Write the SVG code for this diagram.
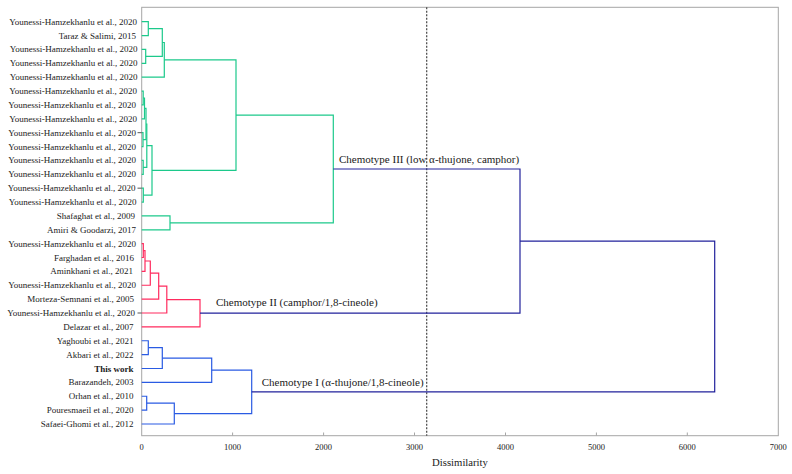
<svg xmlns="http://www.w3.org/2000/svg" width="792" height="474" viewBox="0 0 792 474">
<style>
text{font-family:"Liberation Serif","Times New Roman",serif;fill:#1a1a1a}
.lb{font-size:9px;text-anchor:end}
.tk{font-size:8.5px;text-anchor:middle}
.ct{font-size:11px}
.br{fill:none;stroke-width:1.2;stroke-linejoin:miter}
.g{stroke:#1cc98b}
.r{stroke:#ff2b5e}
.b{stroke:#2a5be3}
.n{stroke:#22229c}
.stub{stroke:#555;stroke-width:1}
.ax{fill:none;stroke:#a6a6a6;stroke-width:1}
</style>
<rect width="792" height="474" fill="#fff"/>
<g id="axes">
<rect class="ax" x="141.7" y="7.3" width="636.6" height="428.4"/>
<path class="ax" d="M232.6,432.5V435.7M323.6,432.5V435.7M414.5,432.5V435.7M505.5,432.5V435.7M596.4,432.5V435.7M687.3,432.5V435.7"/>
<text class="tk" x="141.7" y="450">0</text>
<text class="tk" x="232.6" y="450">1000</text>
<text class="tk" x="323.6" y="450">2000</text>
<text class="tk" x="414.5" y="450">3000</text>
<text class="tk" x="505.5" y="450">4000</text>
<text class="tk" x="596.4" y="450">5000</text>
<text class="tk" x="687.3" y="450">6000</text>
<text class="tk" x="778.3" y="450">7000</text>
<text x="460" y="466" style="font-size:10.7px;text-anchor:middle">Dissimilarity</text>
</g>
<g id="cutoff"><line x1="426.7" y1="7.3" x2="426.7" y2="435.7" stroke="#444" stroke-width="1.2" stroke-dasharray="2,1.5"/></g>
<g id="connectors">
<g class="br g">
<path d="M141.7,21.7H148.3V35.57H141.7"/>
<path d="M148.3,28.64H162.3V56.38H145.7"/>
<path d="M141.7,49.44H145.7V63.32H141.7"/>
<path d="M162.3,42.51H164.3V77.19H141.7"/>
<path d="M164.3,59.85H236V170.4H152"/>
<path d="M141.7,91.06H143.2V104.93H141.7"/>
<path d="M143.2,98H144.5V118.8H141.7"/>
<path d="M141.7,132.68H143V146.55H141.7"/>
<path d="M144.5,108.4H146V139.6H143"/>
<path d="M146,124H146.8V167.36H143.2"/>
<path d="M141.7,160.42H143.2V174.29H141.7"/>
<path d="M146.8,145.7H152V195.1H143.3"/>
<path d="M141.7,188.16H143.3V202.04H141.7"/>
<path d="M236,115.1H333.3V222.85H170"/>
<path d="M141.7,215.91H170V229.78H141.7"/>
</g>
<g class="br r">
<path d="M141.7,243.65H143.3V257.52H141.7"/>
<path d="M143.3,250.59H145V271.4H141.7"/>
<path d="M145,261H150.3V285.27H141.7"/>
<path d="M150.3,273.1H158.7V299.14H141.7"/>
<path d="M158.7,286.1H166.8V313.01H141.7"/>
<path d="M166.8,299.6H200V326.88H141.7"/>
</g>
<g class="br b">
<path d="M141.7,340.76H148.3V354.63H141.7"/>
<path d="M148.3,347.7H162.3V368.5H141.7"/>
<path d="M162.3,358.1H211.7V382.37H141.7"/>
<path d="M141.7,396.24H146.7V410.12H141.7"/>
<path d="M146.7,403.18H174.3V423.99H141.7"/>
<path d="M211.7,370.2H251.7V413.6H174.3"/>
</g>
<g class="br n">
<path d="M333.3,169H520V313.2H200"/>
<path d="M520,241.1H714.7V391.9H251.7"/>
</g>
<path class="stub" d="M137.5,132.68H141.7M137.5,188.16H141.7M137.5,313.01H141.7"/>
</g>
<g id="leaves">
<g id="leaf-0"><text class="lb" x="137" y="24.7">Younessi-Hamzekhanlu et al., 2020</text></g>
<g id="leaf-1"><text class="lb" x="136" y="38.6">Taraz &amp; Salimi, 2015</text></g>
<g id="leaf-2"><text class="lb" x="137.5" y="52.4">Younessi-Hamzekhanlu et al., 2020</text></g>
<g id="leaf-3"><text class="lb" x="137.5" y="66.3">Younessi-Hamzekhanlu et al., 2020</text></g>
<g id="leaf-4"><text class="lb" x="137.5" y="80.2">Younessi-Hamzekhanlu et al., 2020</text></g>
<g id="leaf-5"><text class="lb" x="137" y="94.1">Younessi-Hamzekhanlu et al., 2020</text></g>
<g id="leaf-6"><text class="lb" x="136" y="107.9">Younessi-Hamzekhanlu et al., 2020</text></g>
<g id="leaf-7"><text class="lb" x="137" y="121.8">Younessi-Hamzekhanlu et al., 2020</text></g>
<g id="leaf-8"><text class="lb" x="136" y="135.7">Younessi-Hamzekhanlu et al., 2020</text></g>
<g id="leaf-9"><text class="lb" x="136" y="149.6">Younessi-Hamzekhanlu et al., 2020</text></g>
<g id="leaf-10"><text class="lb" x="136" y="163.4">Younessi-Hamzekhanlu et al., 2020</text></g>
<g id="leaf-11"><text class="lb" x="136" y="177.3">Younessi-Hamzekhanlu et al., 2020</text></g>
<g id="leaf-12"><text class="lb" x="135.5" y="191.2">Younessi-Hamzekhanlu et al., 2020</text></g>
<g id="leaf-13"><text class="lb" x="136.5" y="205">Younessi-Hamzekhanlu et al., 2020</text></g>
<g id="leaf-14"><text class="lb" x="135" y="218.9">Shafaghat et al., 2009</text></g>
<g id="leaf-15"><text class="lb" x="136" y="232.8">Amiri &amp; Goodarzi, 2017</text></g>
<g id="leaf-16"><text class="lb" x="136" y="246.7">Younessi-Hamzekhanlu et al., 2020</text></g>
<g id="leaf-17"><text class="lb" x="134" y="260.5">Farghadan et al., 2016</text></g>
<g id="leaf-18"><text class="lb" x="133" y="274.4">Aminkhani et al., 2021</text></g>
<g id="leaf-19"><text class="lb" x="136" y="288.3">Younessi-Hamzekhanlu et al., 2020</text></g>
<g id="leaf-20"><text class="lb" x="134" y="302.1">Morteza-Semnani et al., 2005</text></g>
<g id="leaf-21"><text class="lb" x="135" y="316">Younessi-Hamzekhanlu et al., 2020</text></g>
<g id="leaf-22"><text class="lb" x="133.5" y="329.9">Delazar et al., 2007</text></g>
<g id="leaf-23"><text class="lb" x="133.5" y="343.8">Yaghoubi et al., 2021</text></g>
<g id="leaf-24"><text class="lb" x="133.5" y="357.6">Akbari et al., 2022</text></g>
<g id="leaf-25"><text class="lb" x="133.5" y="371.5" font-weight="bold">This work</text></g>
<g id="leaf-26"><text class="lb" x="133.5" y="385.4">Barazandeh, 2003</text></g>
<g id="leaf-27"><text class="lb" x="133.5" y="399.2">Orhan et al., 2010</text></g>
<g id="leaf-28"><text class="lb" x="133.5" y="413.1">Pouresmaeil et al., 2020</text></g>
<g id="leaf-29"><text class="lb" x="133.5" y="427">Safaei-Ghomi et al., 2012</text></g>
</g>
<g id="chemotype-III"><text class="ct" x="339" y="162.8">Chemotype III (low α-thujone, camphor)</text></g>
<g id="chemotype-II"><text class="ct" x="216" y="306.2">Chemotype II (camphor/1,8-cineole)</text></g>
<g id="chemotype-I"><text class="ct" x="261.7" y="386.2">Chemotype I (α-thujone/1,8-cineole)</text></g>
</svg>
